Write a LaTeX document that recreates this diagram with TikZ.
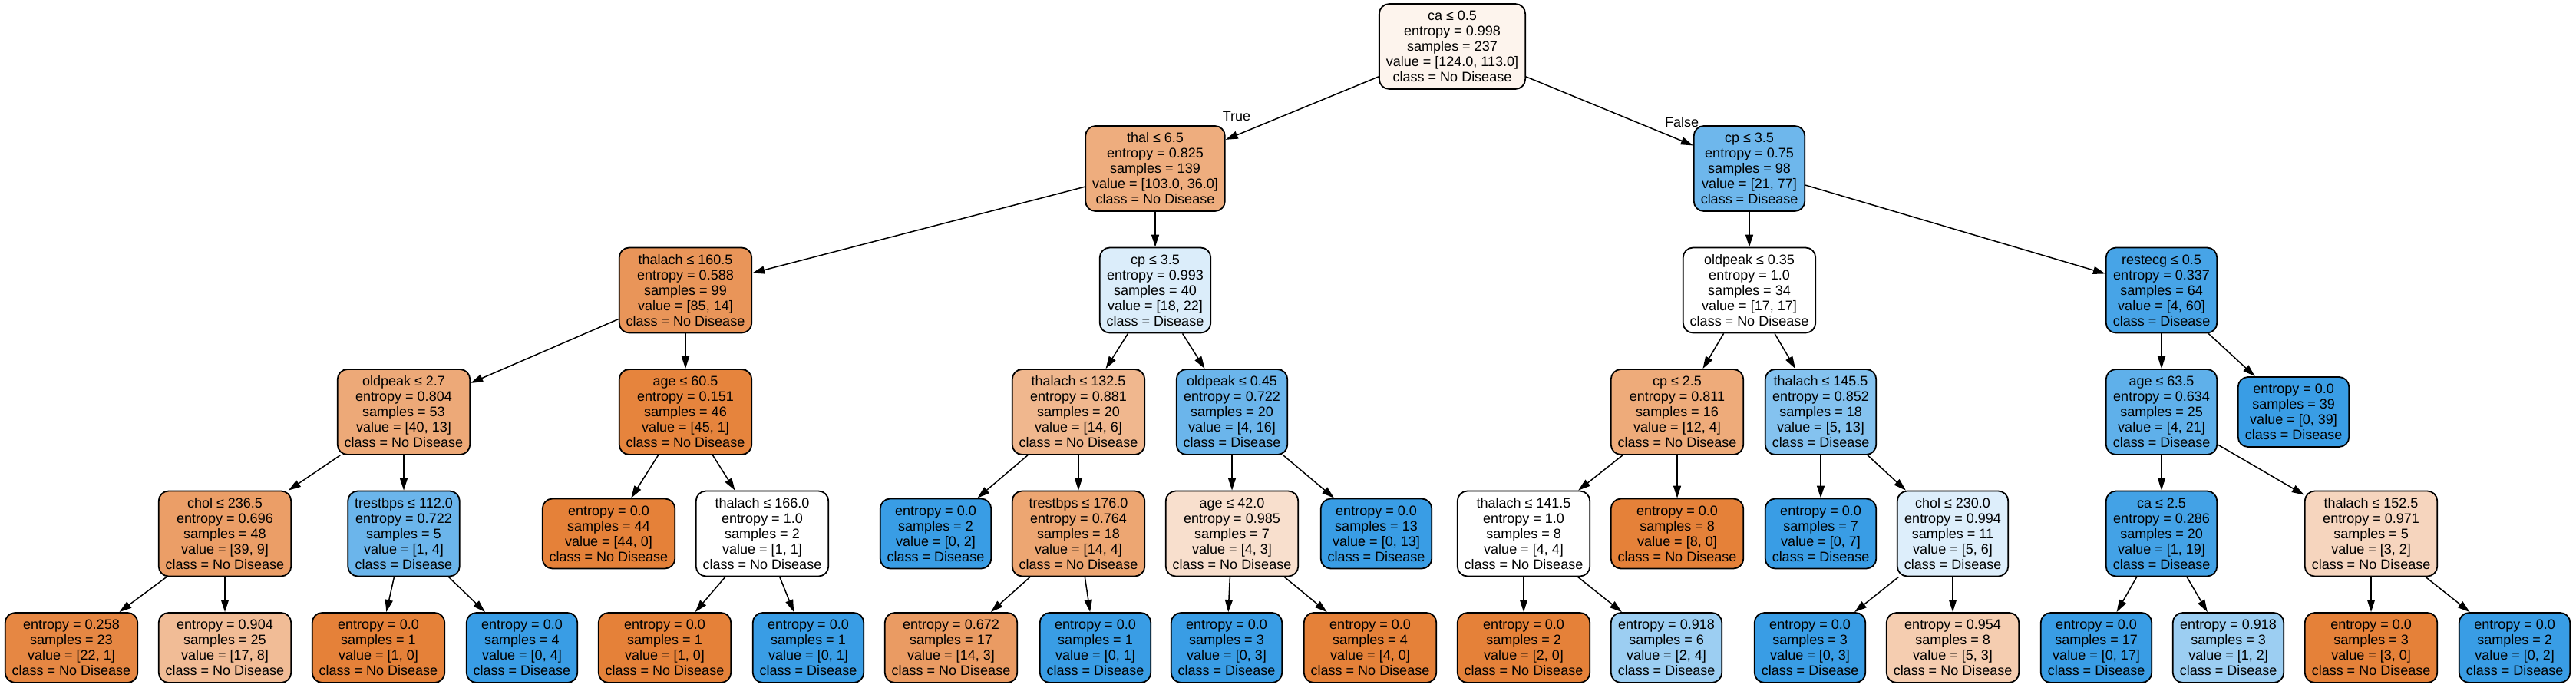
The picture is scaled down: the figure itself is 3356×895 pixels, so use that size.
\documentclass[tikz,border=0pt]{standalone}
\usepackage{fontspec}
\setmainfont{Liberation Sans}
\usetikzlibrary{arrows.meta}

\definecolor{orng}{RGB}{229,129,57}
\definecolor{blu}{RGB}{57,157,229}

\begin{document}
\begin{tikzpicture}[x=1pt,y=-1pt,>={Triangle[length=16pt,width=10pt]},font=\fontsize{18}{20}\selectfont]

  \tikzstyle{box}=[rectangle,draw=black,rounded corners=13pt,line width=1.8pt,align=center,inner xsep=9pt,inner ysep=2pt]
  \tikzstyle{decision}=[box,minimum height=111pt]
  \tikzstyle{leaf}=[box,minimum height=91pt]
  \tikzstyle{from}=[<-,line width=1.5pt]

  \useasboundingbox (0,0) rectangle (3356,895);

  % root
  \node [decision,fill=orng!9] (n0) at (1892,60.5) {ca ≤ 0.5\\entropy = 0.998\\samples = 237\\value = [124.0, 113.0]\\class = No Disease};

  % left part
  \node [decision,fill=orng!65] (n1) at (1505,219.5) {thal ≤ 6.5\\entropy = 0.825\\samples = 139\\value = [103.0, 36.0]\\class = No Disease}
    edge [from] (n0);
  \node [decision,fill=orng!84] (n2) at (893,378) {thalach ≤ 160.5\\entropy = 0.588\\samples = 99\\value = [85, 14]\\class = No Disease}
    edge [from] (n1);
  \node [decision,fill=orng!68] (n3) at (526,536.5) {oldpeak ≤ 2.7\\entropy = 0.804\\samples = 53\\value = [40, 13]\\class = No Disease}
    edge [from] (n2);
  \node [decision,fill=orng!77] (n4) at (293,695) {chol ≤ 236.5\\entropy = 0.696\\samples = 48\\value = [39, 9]\\class = No Disease}
    edge [from] (n3);
  \node [leaf,fill=orng!95] (n5) at (93,843.5) {entropy = 0.258\\samples = 23\\value = [22, 1]\\class = No Disease}
    edge [from] (n4);
  \node [leaf,fill=orng!53] (n6) at (293,843.5) {entropy = 0.904\\samples = 25\\value = [17, 8]\\class = No Disease}
    edge [from] (n4);
  \node [decision,fill=blu!75] (n7) at (526,695) {trestbps ≤ 112.0\\entropy = 0.722\\samples = 5\\value = [1, 4]\\class = Disease}
    edge [from] (n3);
  \node [leaf,fill=orng] (n8) at (493,843.5) {entropy = 0.0\\samples = 1\\value = [1, 0]\\class = No Disease}
    edge [from] (n7);
  \node [leaf,fill=blu] (n9) at (680,843.5) {entropy = 0.0\\samples = 4\\value = [0, 4]\\class = Disease}
    edge [from] (n7);
  \node [decision,fill=orng!98] (n10) at (893,536.5) {age ≤ 60.5\\entropy = 0.151\\samples = 46\\value = [45, 1]\\class = No Disease}
    edge [from] (n2);
  \node [leaf,fill=orng] (n11) at (793,695) {entropy = 0.0\\samples = 44\\value = [44, 0]\\class = No Disease}
    edge [from] (n10);
  \node [decision,fill=white] (n12) at (993,695) {thalach ≤ 166.0\\entropy = 1.0\\samples = 2\\value = [1, 1]\\class = No Disease}
    edge [from] (n10);
  \node [leaf,fill=orng] (n13) at (866,843.5) {entropy = 0.0\\samples = 1\\value = [1, 0]\\class = No Disease}
    edge [from] (n12);
  \node [leaf,fill=blu] (n14) at (1053,843.5) {entropy = 0.0\\samples = 1\\value = [0, 1]\\class = Disease}
    edge [from] (n12);
  \node [decision,fill=blu!18] (n15) at (1505,378) {cp ≤ 3.5\\entropy = 0.993\\samples = 40\\value = [18, 22]\\class = Disease}
    edge [from] (n1);
  \node [decision,fill=orng!57] (n16) at (1405,536.5) {thalach ≤ 132.5\\entropy = 0.881\\samples = 20\\value = [14, 6]\\class = No Disease}
    edge [from] (n15);
  \node [leaf,fill=blu] (n17) at (1219,695) {entropy = 0.0\\samples = 2\\value = [0, 2]\\class = Disease}
    edge [from] (n16);
  \node [decision,fill=orng!71] (n18) at (1405,695) {trestbps ≤ 176.0\\entropy = 0.764\\samples = 18\\value = [14, 4]\\class = No Disease}
    edge [from] (n16);
  \node [leaf,fill=orng!79] (n19) at (1239,843.5) {entropy = 0.672\\samples = 17\\value = [14, 3]\\class = No Disease}
    edge [from] (n18);
  \node [leaf,fill=blu] (n20) at (1427,843.5) {entropy = 0.0\\samples = 1\\value = [0, 1]\\class = Disease}
    edge [from] (n18);
  \node [decision,fill=blu!75] (n21) at (1605,536.5) {oldpeak ≤ 0.45\\entropy = 0.722\\samples = 20\\value = [4, 16]\\class = Disease}
    edge [from] (n15);
  \node [decision,fill=orng!25] (n22) at (1605,695) {age ≤ 42.0\\entropy = 0.985\\samples = 7\\value = [4, 3]\\class = No Disease}
    edge [from] (n21);
  \node [leaf,fill=blu] (n23) at (1598,843.5) {entropy = 0.0\\samples = 3\\value = [0, 3]\\class = Disease}
    edge [from] (n22);
  \node [leaf,fill=orng] (n24) at (1785,843.5) {entropy = 0.0\\samples = 4\\value = [4, 0]\\class = No Disease}
    edge [from] (n22);
  \node [leaf,fill=blu] (n25) at (1793,695) {entropy = 0.0\\samples = 13\\value = [0, 13]\\class = Disease}
    edge [from] (n21);

  % right part
  \node [decision,fill=blu!73] (n26) at (2279,219.5) {cp ≤ 3.5\\entropy = 0.75\\samples = 98\\value = [21, 77]\\class = Disease}
    edge [from] (n0);
  \node [decision,fill=white] (n27) at (2279,378) {oldpeak ≤ 0.35\\entropy = 1.0\\samples = 34\\value = [17, 17]\\class = No Disease}
    edge [from] (n26);
  \node [decision,fill=orng!67] (n28) at (2185,536.5) {cp ≤ 2.5\\entropy = 0.811\\samples = 16\\value = [12, 4]\\class = No Disease}
    edge [from] (n27);
  \node [decision,fill=white] (n29) at (1985,695) {thalach ≤ 141.5\\entropy = 1.0\\samples = 8\\value = [4, 4]\\class = No Disease}
    edge [from] (n28);
  \node [leaf,fill=orng] (n30) at (1985,843.5) {entropy = 0.0\\samples = 2\\value = [2, 0]\\class = No Disease}
    edge [from] (n29);
  \node [leaf,fill=blu!50] (n31) at (2171,843.5) {entropy = 0.918\\samples = 6\\value = [2, 4]\\class = Disease}
    edge [from] (n29);
  \node [leaf,fill=orng] (n32) at (2185,695) {entropy = 0.0\\samples = 8\\value = [8, 0]\\class = No Disease}
    edge [from] (n28);
  \node [decision,fill=blu!62] (n33) at (2372,536.5) {thalach ≤ 145.5\\entropy = 0.852\\samples = 18\\value = [5, 13]\\class = Disease}
    edge [from] (n27);
  \node [leaf,fill=blu] (n34) at (2372,695) {entropy = 0.0\\samples = 7\\value = [0, 7]\\class = Disease}
    edge [from] (n33);
  \node [decision,fill=blu!17] (n35) at (2544,695) {chol ≤ 230.0\\entropy = 0.994\\samples = 11\\value = [5, 6]\\class = Disease}
    edge [from] (n33);
  \node [leaf,fill=blu] (n36) at (2358,843.5) {entropy = 0.0\\samples = 3\\value = [0, 3]\\class = Disease}
    edge [from] (n35);
  \node [leaf,fill=orng!40] (n37) at (2544,843.5) {entropy = 0.954\\samples = 8\\value = [5, 3]\\class = No Disease}
    edge [from] (n35);
  \node [decision,fill=blu!93] (n38) at (2816,378) {restecg ≤ 0.5\\entropy = 0.337\\samples = 64\\value = [4, 60]\\class = Disease}
    edge [from] (n26);
  \node [decision,fill=blu!81] (n39) at (2816,536.5) {age ≤ 63.5\\entropy = 0.634\\samples = 25\\value = [4, 21]\\class = Disease}
    edge [from] (n38);
  \node [decision,fill=blu!95] (n40) at (2816,695) {ca ≤ 2.5\\entropy = 0.286\\samples = 20\\value = [1, 19]\\class = Disease}
    edge [from] (n39);
  \node [leaf,fill=blu] (n41) at (2731,843.5) {entropy = 0.0\\samples = 17\\value = [0, 17]\\class = Disease}
    edge [from] (n40);
  \node [leaf,fill=blu!50] (n42) at (2903,843.5) {entropy = 0.918\\samples = 3\\value = [1, 2]\\class = Disease}
    edge [from] (n40);
  \node [decision,fill=orng!33] (n43) at (3089,695) {thalach ≤ 152.5\\entropy = 0.971\\samples = 5\\value = [3, 2]\\class = No Disease}
    edge [from] (n39);
  \node [leaf,fill=orng] (n44) at (3089,843.5) {entropy = 0.0\\samples = 3\\value = [3, 0]\\class = No Disease}
    edge [from] (n43);
  \node [leaf,fill=blu] (n45) at (3276,843.5) {entropy = 0.0\\samples = 2\\value = [0, 2]\\class = Disease}
    edge [from] (n43);
  \node [leaf,fill=blu] (n46) at (2988,536.5) {entropy = 0.0\\samples = 39\\value = [0, 39]\\class = Disease}
    edge [from] (n38);

  % branch labels
  \node (truelab) at (1611,151) {True};
  \node (falselab) at (2191,159) {False};

\end{tikzpicture}
\end{document}
